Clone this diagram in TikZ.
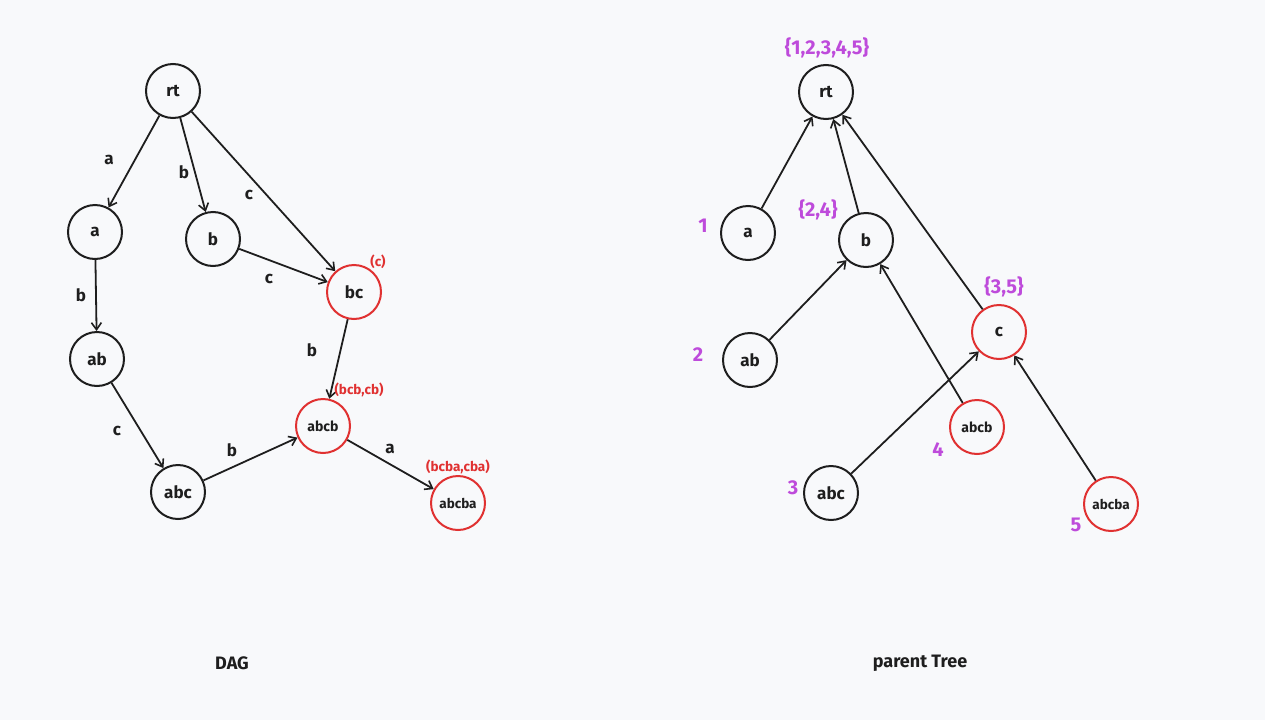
\documentclass[tikz,border=0pt]{standalone}
\usepackage{fontspec}
\setmainfont{Fira Sans}
\usetikzlibrary{arrows.meta}
\definecolor{bgc}{HTML}{F8F9FB}
\definecolor{redc}{HTML}{E03131}
\definecolor{purp}{HTML}{BE4BDB}
\definecolor{ink}{HTML}{1E1E1E}
\tikzset{
  vtx/.style={circle, draw=ink, line width=2pt, minimum size=54pt, inner sep=0pt, font=\fontsize{17}{19}\selectfont\bfseries, text=ink},
  rvtx/.style={vtx, draw=redc},
  edge/.style={draw=ink, line width=1.8pt, -{Straight Barb[length=7pt,width=10pt,line width=1.6pt]}},
  elab/.style={font=\fontsize{17}{19}\selectfont\bfseries, text=ink},
  rlab/.style={font=\fontsize{13.5}{15}\selectfont\bfseries, text=redc},
  plab/.style={font=\fontsize{20}{22}\selectfont\bfseries, text=purp},
  ttl/.style={font=\fontsize{18}{20}\selectfont\bfseries, text=ink}
}
\begin{document}
\begin{tikzpicture}[x=1pt,y=-1pt]
\fill[bgc] (0,0) rectangle (1265,720);
\useasboundingbox (0,0) rectangle (1265,720);
% DAG
\node[vtx] (rt) at (173,91) {rt};
\node[vtx] (a) at (95,232) {a};
\node[vtx] (b) at (213,239) {b};
\node[rvtx] (bc) at (354,292) {bc};
\node[vtx] (ab) at (97,359) {ab};
\node[rvtx, font=\fontsize{14}{16}\selectfont\bfseries] (abcb) at (323,426) {abcb};
\node[vtx] (abc) at (178,492) {abc};
\node[rvtx, font=\fontsize{13.5}{15}\selectfont\bfseries] (abcba) at (458,503) {abcba};
\draw[edge] (rt) -- (a);
\draw[edge] (rt) -- (b);
\draw[edge] (rt) -- (bc);
\draw[edge] (b) -- (bc);
\draw[edge] (a) -- (ab);
\draw[edge] (bc) -- (abcb);
\draw[edge] (ab) -- (abc);
\draw[edge] (abc) -- (abcb);
\draw[edge] (abcb) -- (abcba);
\node[elab] (la1) at (109,160) {a};
\node[elab] (lb1) at (184,172) {b};
\node[elab] (lc1) at (249,195) {c};
\node[elab] (lc2) at (269,279) {c};
\node[elab] (lb2) at (81,295) {b};
\node[elab] (lb3) at (312,350) {b};
\node[elab] (lc3) at (117,431) {c};
\node[elab] (lb4) at (232,450) {b};
\node[elab] (la2) at (390,449) {a};
\node[rlab] (rc) at (378,262) {(c)};
\node[rlab] (rbcb) at (359,390) {(bcb,cb)};
\node[rlab] (rbcba) at (458,467) {(bcba,cba)};
\node[ttl] (t1) at (232,663) {DAG};
% parent tree
\node[vtx] (Trt) at (826,92) {rt};
\node[vtx] (Ta) at (748,233) {a};
\node[vtx] (Tb) at (866,240) {b};
\node[vtx] (Tab) at (750,360) {ab};
\node[rvtx] (Tc) at (999,332) {c};
\node[rvtx, font=\fontsize{14}{16}\selectfont\bfseries] (Tabcb) at (977,427) {abcb};
\node[vtx] (Tabc) at (831,493) {abc};
\node[rvtx, font=\fontsize{13.5}{15}\selectfont\bfseries] (Tabcba) at (1111,504) {abcba};
\draw[edge] (Ta) -- (Trt);
\draw[edge] (Tb) -- (Trt);
\draw[edge] (Tc) -- (Trt);
\draw[edge] (Tab) -- (Tb);
\draw[edge] (Tabcb) -- (Tb);
\draw[edge] (Tabc) -- (Tc);
\draw[edge] (Tabcba) -- (Tc);
\node[plab] (p0) at (827,48) {\{1,2,3,4,5\}};
\node[plab] (p1) at (818,210) {\{2,4\}};
\node[plab] (p2) at (1004,287) {\{3,5\}};
\node[plab] (n1) at (703,226) {1};
\node[plab] (n2) at (698,355) {2};
\node[plab] (n3) at (793,488) {3};
\node[plab] (n4) at (938,450) {4};
\node[plab] (n5) at (1076,525) {5};
\node[ttl] (t2) at (920,663) {parent Tree};
\end{tikzpicture}
\end{document}
